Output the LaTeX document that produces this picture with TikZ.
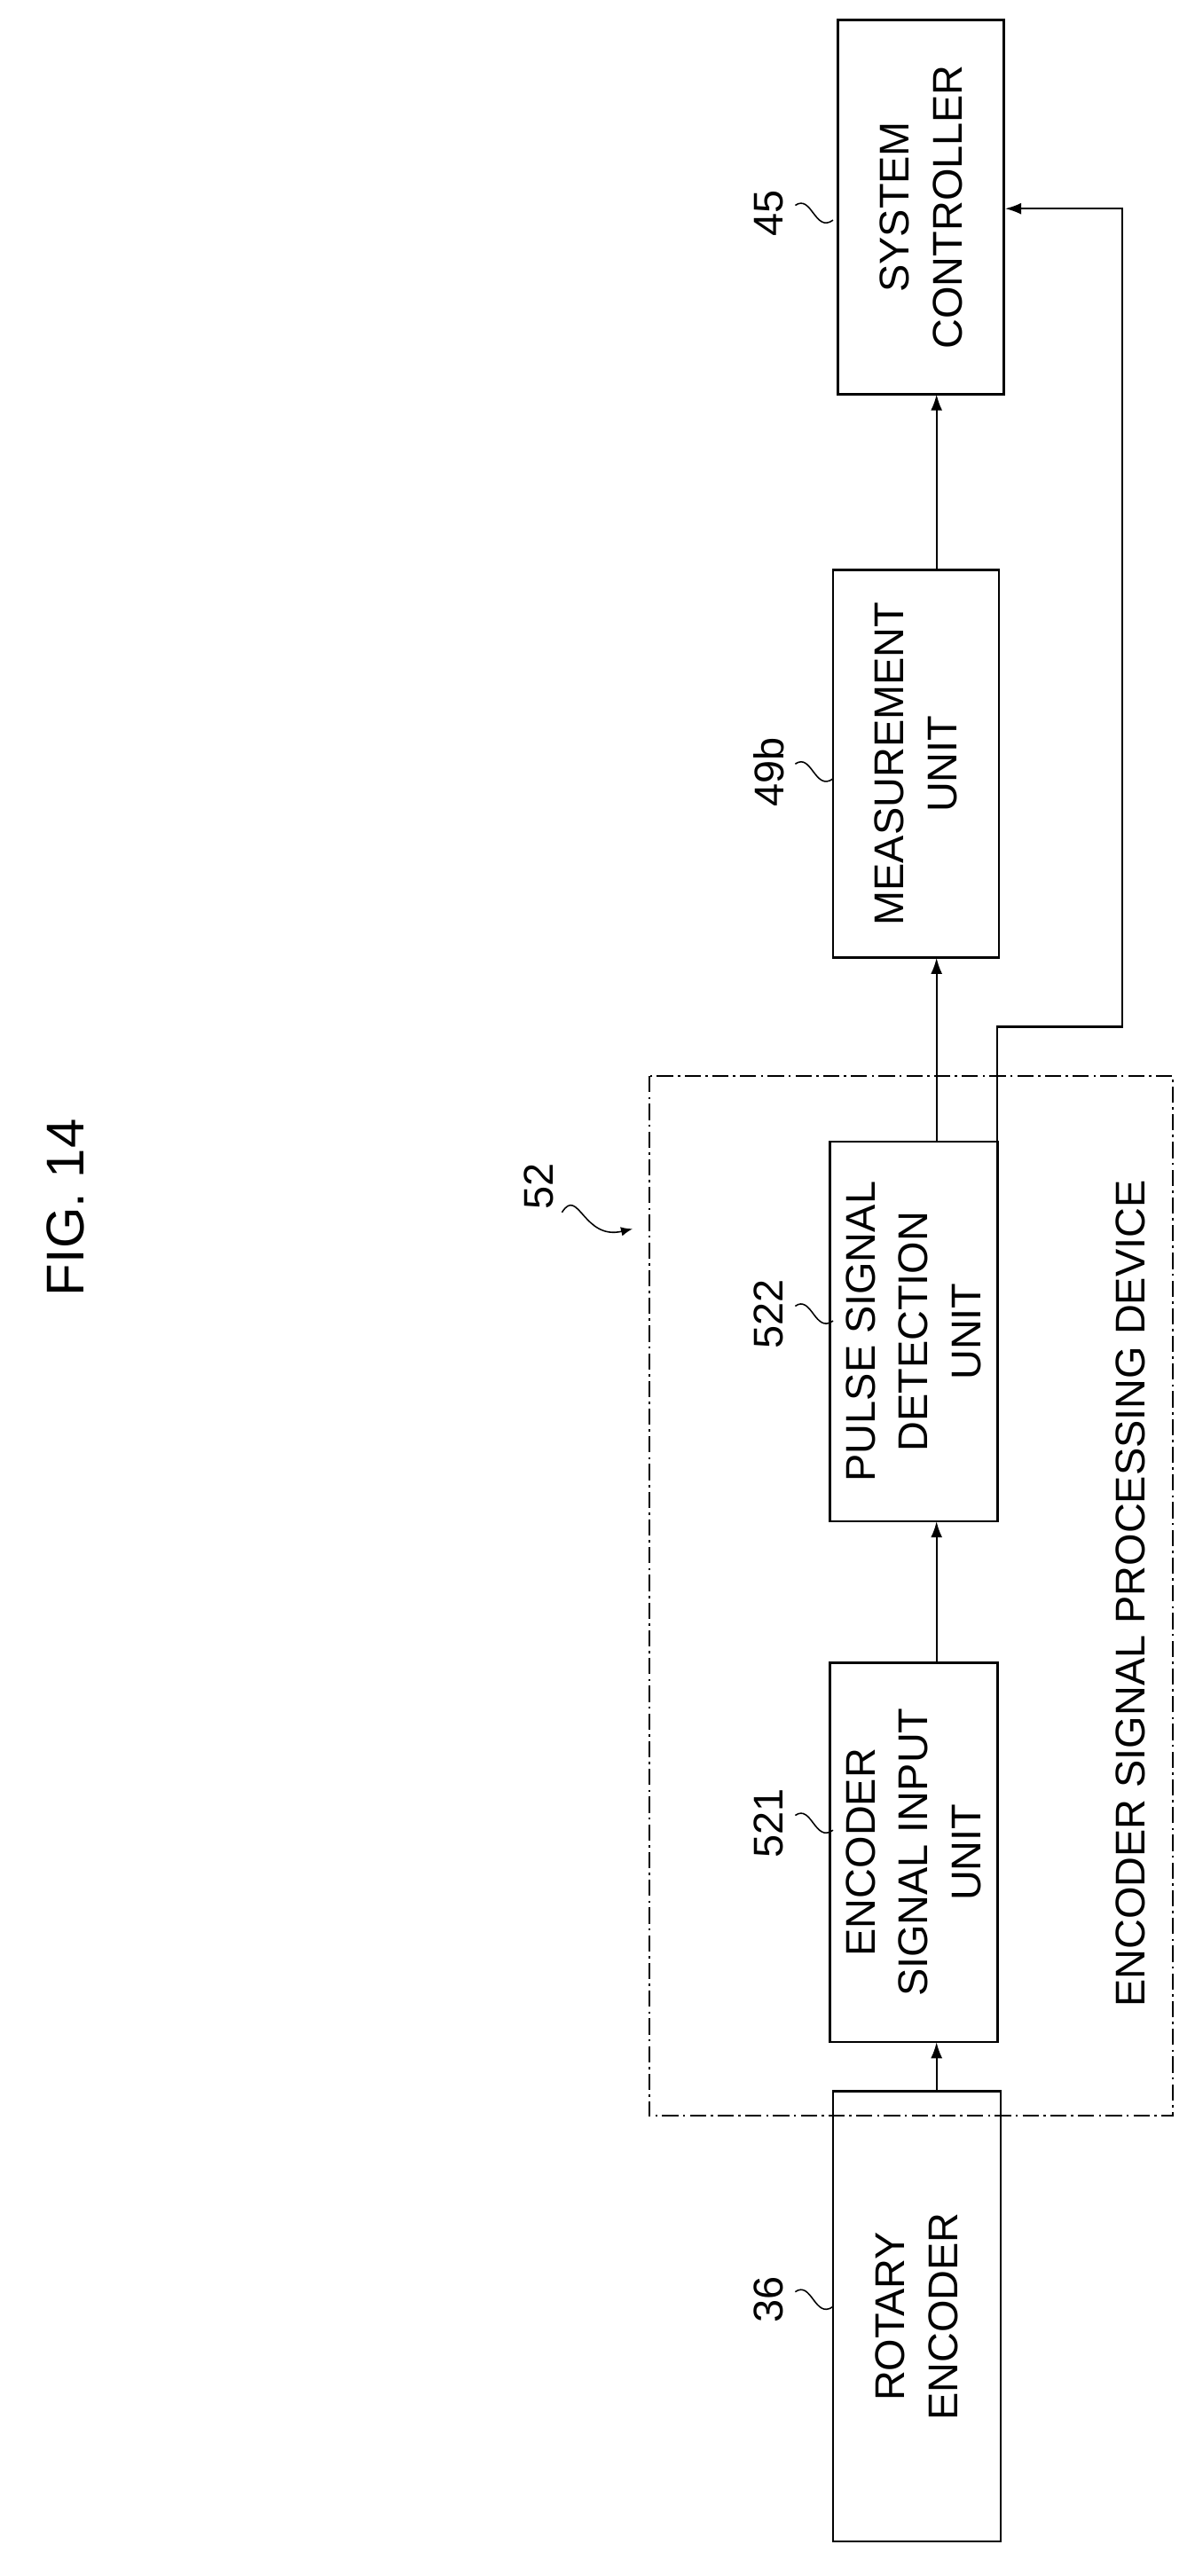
\documentclass[tikz,border=0pt]{standalone}
\usepackage{fontspec}
\setmainfont{Liberation Sans}
\usetikzlibrary{arrows.meta}
\begin{document}
\begin{tikzpicture}[x=0.05cm,y=-0.05cm,
 box/.style={draw,line width=2pt,inner sep=0},
 txt/.style={rotate=90,align=center,font=\fontsize{36}{46}\selectfont},
 lbl/.style={rotate=90,font=\fontsize{36}{40}\selectfont},
 arr/.style={line width=1.6pt,-{Latex[length=14pt,width=10pt]}},
 lead/.style={line width=1.2pt}]
\useasboundingbox (0,0) rectangle (727,1568);
\node[box,minimum width=101*0.05cm,minimum height=228*0.05cm] (sc) at (560.5,126) {};
\node[box,minimum width=101*0.05cm,minimum height=236*0.05cm] (mu) at (557.5,465) {};
\node[box,minimum width=102*0.05cm,minimum height=231*0.05cm] (pd) at (556,810.5) {};
\node[box,minimum width=102*0.05cm,minimum height=231*0.05cm] (ei) at (556,1127.5) {};
\node[box,minimum width=102*0.05cm,minimum height=274*0.05cm] (re) at (558,1410) {};
\node[txt] at (sc) {SYSTEM\\CONTROLLER};
\node[txt] at (mu) {MEASUREMENT\\UNIT};
\node[txt] at (pd) {PULSE SIGNAL\\DETECTION\\UNIT};
\node[txt] at (ei) {ENCODER\\SIGNAL INPUT\\UNIT};
\node[txt] at (re) {ROTARY\\ENCODER};
\draw[line width=1.5pt,dash pattern=on 14pt off 4pt on 2pt off 4pt] (395,655) rectangle (714,1288);
\node[txt] at (688,970) {ENCODER SIGNAL PROCESSING DEVICE};
\node[lbl,font=\fontsize{46}{50}\selectfont] (fig) at (40,735) {FIG. 14};
\draw[arr] (570,1273) -- (570,1243);
\draw[arr] (570,1012) -- (570,926);
\draw[arr] (570,695) -- (570,583);
\draw[arr] (570,347) -- (570,240);
\coordinate (f1) at (607,695);
\draw[arr] (f1) -- (607,625) -- (683,625) -- (683,127) -- (sc.east |- 0,127);
\foreach \t/\y/\n in {45/130/l45,49b/470/l49,522/800/l522,521/1110/l521,36/1400/l36}{
 \node[lbl] (\n) at (468,\y) {\t};
 \draw[lead] (484,\y-5) .. controls (494,\y-12) and (496,\y+12) .. (507,\y+4);
}
\node[lbl] (l52) at (328,722) {52};
\draw[line width=1.2pt,-{Latex[length=10pt,width=8pt]}] (342,738) .. controls (352,722) and (355,755) .. (385,748);
\end{tikzpicture}
\end{document}
